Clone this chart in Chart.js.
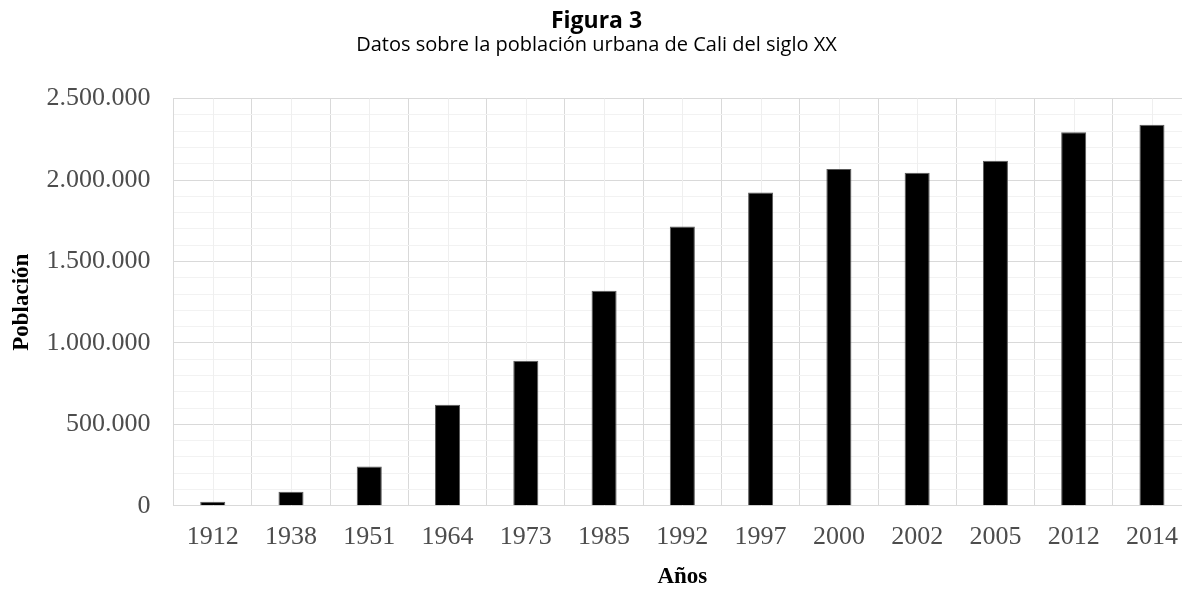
<!DOCTYPE html>
<html lang="es">
<head>
<meta charset="utf-8">
<title>Figura 3</title>
<script src="https://cdn.jsdelivr.net/npm/chart.js@4/dist/chart.umd.min.js"></script>
<style>
  html, body { margin: 0; padding: 0; overflow: hidden; background: #fff; }
  #wrap { width: 1194px; height: 589px; position: relative; }
</style>
</head>
<body>
<div id="wrap"><canvas id="poblacionChart"></canvas></div>
<script>
// Datos
const years = ['1912', '1938', '1951', '1964', '1973', '1985', '1992', '1997', '2000', '2002', '2005', '2012', '2014'];
const population = [25000, 86000, 241000, 620000, 890000, 1321000, 1714000, 1923000, 2068000, 2044000, 2119000, 2293000, 2340000];
const yMax = 2500000;
const yMinorStep = 100000;
const yMajorStep = 500000;

function formatMiles(v) {
  return String(v).replace(/\B(?=(\d{3})+(?!\d))/g, '.');
}

// lineas claras en el centro de cada categoria
const centerLines = {
  id: 'centerLines',
  beforeDatasetsDraw(chart) {
    const { ctx, chartArea, scales } = chart;
    ctx.save();
    ctx.strokeStyle = '#efefef';
    ctx.lineWidth = 1;
    years.forEach((y, i) => {
      const x = Math.round(scales.x.getPixelForValue(i)) + 0.5;
      ctx.beginPath();
      ctx.moveTo(x, chartArea.top);
      ctx.lineTo(x, chartArea.bottom);
      ctx.stroke();
    });
    ctx.restore();
  }
};

const serif = "'Liberation Serif', 'DejaVu Serif', serif";
const sans = "'Open Sans', 'Noto Sans', sans-serif";

new Chart(document.getElementById('poblacionChart'), {
  type: 'bar',
  data: {
    labels: years,
    datasets: [{
      label: 'Población',
      data: population,
      backgroundColor: '#000000',
      borderColor: '#595959',
      borderWidth: 1,
      barPercentage: 0.32,
      categoryPercentage: 1
    }]
  },
  options: {
    responsive: true,
    maintainAspectRatio: false,
    animation: false,
    layout: { padding: { left: 0, right: 1, top: 0, bottom: 0 } },
    plugins: {
      legend: { display: false },
      tooltip: { enabled: false },
      title: {
        display: true,
        text: 'Figura 3',
        color: '#000',
        font: { family: sans, size: 23, weight: 'bold' },
        padding: { top: 8, bottom: -2 }
      },
      subtitle: {
        display: true,
        text: 'Datos sobre la población urbana de Cali del siglo XX',
        color: '#000',
        font: { family: sans, size: 20 },
        padding: { top: 0, bottom: 41 }
      }
    },
    scales: {
      x: {
        grid: { color: '#d9d9d9', lineWidth: 1, drawTicks: false },
        border: { color: '#d9d9d9' },
        ticks: { color: '#4d4d4d', font: { family: serif, size: 26 }, padding: 16, maxRotation: 0 },
        title: {
          display: true,
          text: 'Años',
          color: '#000',
          font: { family: serif, size: 23, weight: 'bold', lineHeight: 1 },
          padding: { top: -3, bottom: 0 }
        }
      },
      y: {
        min: 0,
        max: yMax,
        grid: {
          drawTicks: false,
          color: (c) => (c.tick && c.tick.value % yMajorStep === 0) ? '#d9d9d9' : '#f2f2f2'
        },
        border: { color: '#d9d9d9' },
        ticks: {
          stepSize: yMinorStep,
          maxTicksLimit: 40,
          autoSkip: false,
          color: '#4d4d4d',
          font: { family: serif, size: 26 },
          padding: 23,
          callback: (v) => (v % yMajorStep === 0 ? formatMiles(v) : '')
        },
        title: {
          display: true,
          text: 'Población',
          color: '#000',
          font: { family: serif, size: 23, weight: 'bold', lineHeight: 1.2 },
          padding: { top: 8, bottom: -12 }
        }
      }
    }
  },
  plugins: [centerLines]
});
</script>
</body>
</html>
